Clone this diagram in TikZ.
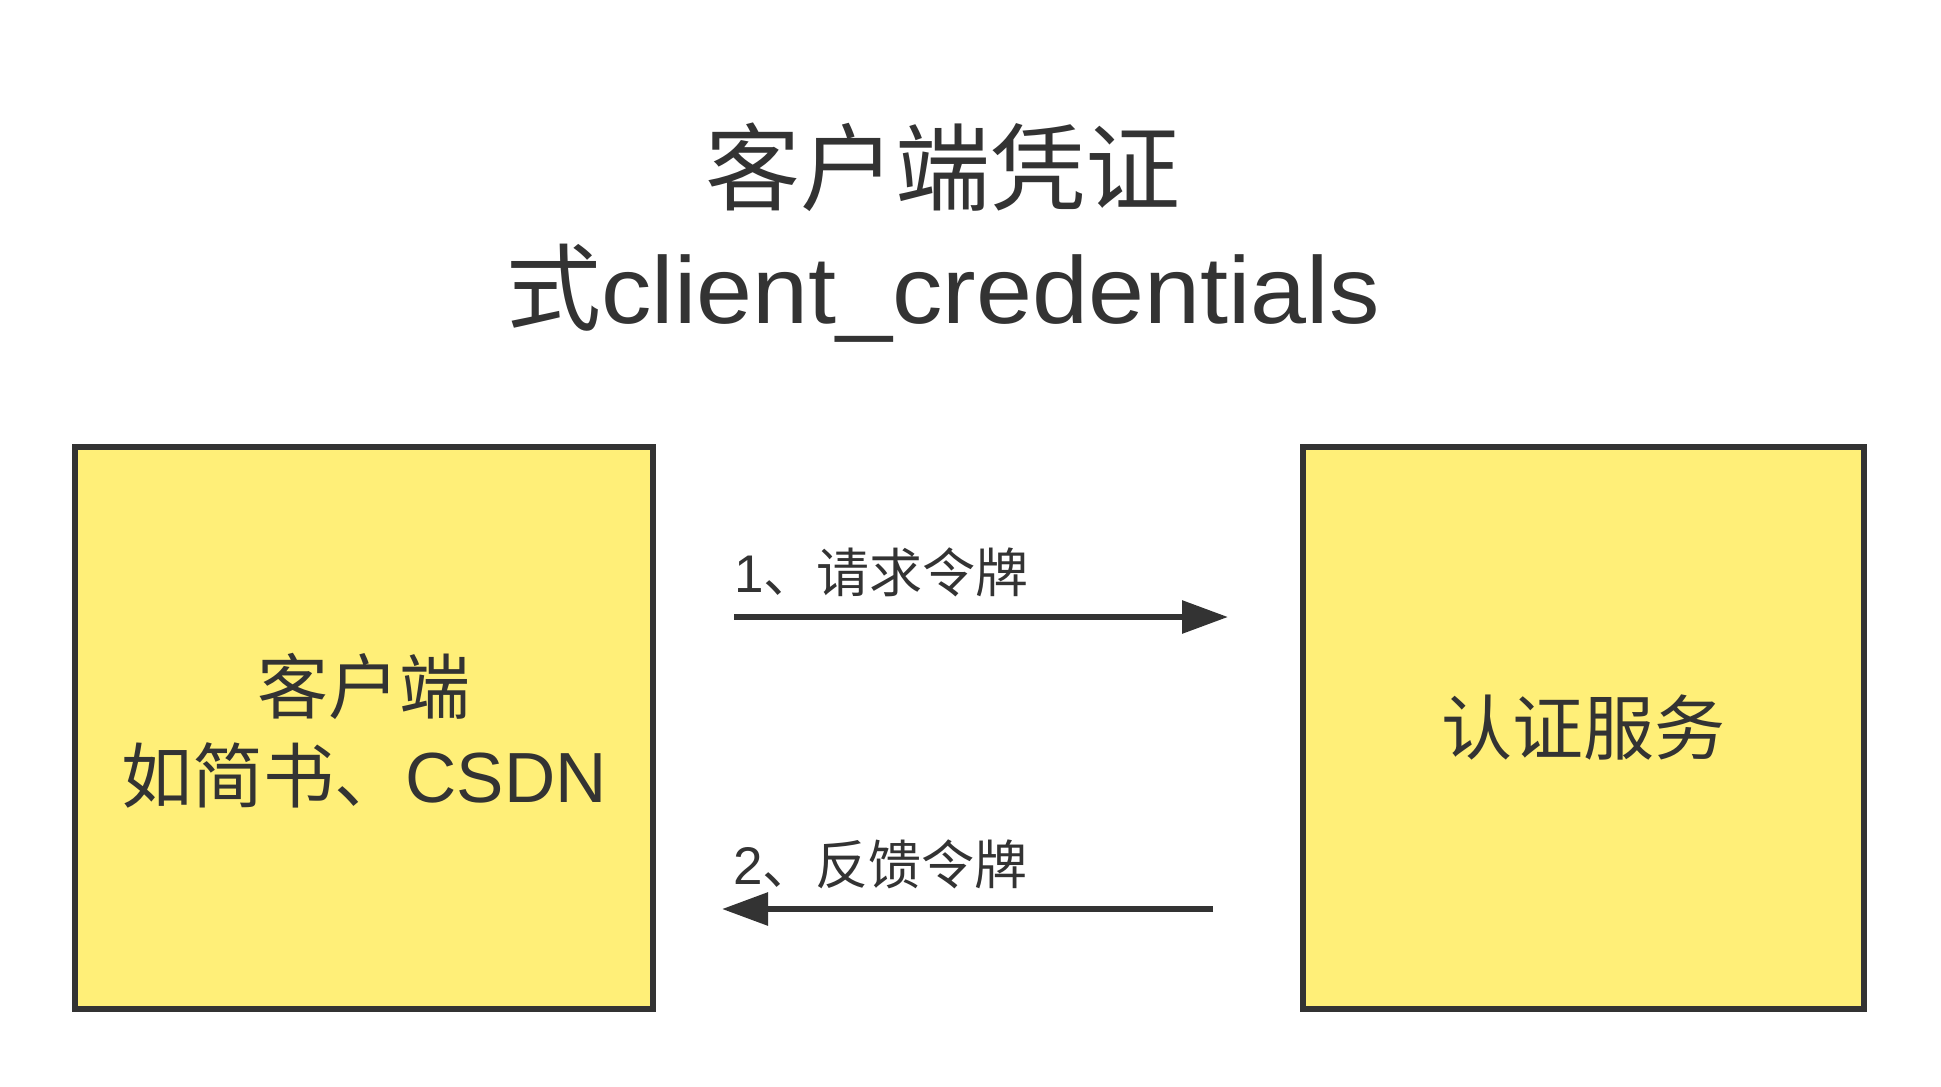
\documentclass[tikz,border=0pt]{standalone}
\usepackage{fontspec}
\setmainfont{Liberation Sans}
\newfontfamily\cjk{Noto Sans CJK SC}
\newfontfamily\widesans[FakeStretch=1.06]{Liberation Sans}
\usetikzlibrary{arrows.meta}
\definecolor{ink}{HTML}{333333}
\definecolor{boxfill}{HTML}{FFEF78}
\begin{document}
\begin{tikzpicture}[x=0.5pt,y=-0.5pt,
  party/.style={draw=ink,fill=boxfill,line width=3pt,rectangle,inner sep=0pt,
    text=ink,align=center,font=\fontsize{35.5pt}{44.5pt}\selectfont},
  flow/.style={draw=ink,line width=3pt,-{Triangle[length=23pt,width=16pt]}},
  flowlabel/.style={anchor=west,inner sep=0pt,text=ink,font=\fontsize{26.5pt}{30pt}\selectfont},
  titletext/.style={inner sep=0pt,text=ink,align=center,font=\fontsize{47.5pt}{60pt}\selectfont}]
\fill[white] (0,0) rectangle (1941,1086);
\useasboundingbox (0,0) rectangle (1941,1086);
\node[titletext] (title) at (943,233) {{\cjk 客户端凭证}\\{\cjk 式}{\widesans client\_credentials}};
\node[party,minimum width=289pt,minimum height=281pt] (client) at (364,728) {};
\node[text=ink,align=center,font=\fontsize{35.5pt}{44.5pt}\selectfont] (clienttext) at (364,731) {{\cjk 客户端}\\{\cjk 如简书、}CSDN};
\node[party,minimum width=280.5pt,minimum height=281pt] (auth) at (1583.5,728) {{\cjk 认证服务}};
\coordinate (r1s) at (734,617);
\coordinate (r1e) at (1228,617);
\coordinate (r2s) at (1213,909);
\coordinate (r2e) at (722,909);
\draw[flow] (r1s) -- (r1e);
\draw[flow] (r2s) -- (r2e);
\node[flowlabel] (l1) at (734,572) {1{\cjk 、请求令牌}};
\node[flowlabel] (l2) at (733,864) {2{\cjk 、反馈令牌}};
\end{tikzpicture}
\end{document}
